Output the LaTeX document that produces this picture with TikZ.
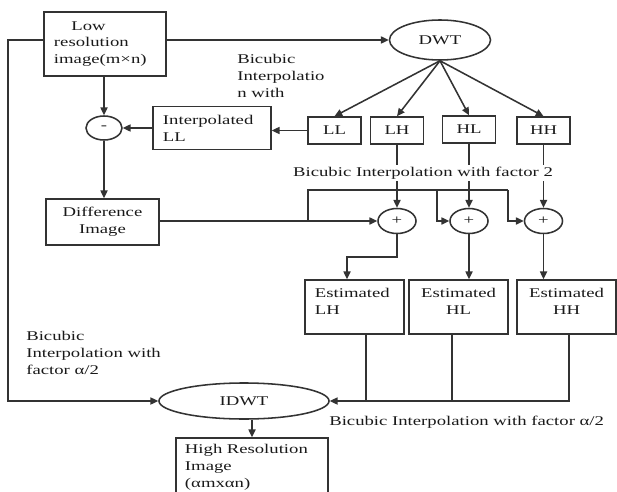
\documentclass[tikz,border=0pt]{standalone}
\usepackage{fontspec}
\setmainfont{Liberation Serif}[FakeStretch=1.4]
\usetikzlibrary{arrows.meta,shapes.geometric}

\tikzset{
  blk/.style={draw=black!80, rectangle, line width=1.1pt, inner ysep=2pt},
  oval/.style={draw=black!80, ellipse, line width=1.1pt, inner sep=0pt},
  est/.style={blk, minimum width=2.475cm, minimum height=1.35cm, text width=1.975cm},
  lbl/.style={inner sep=0pt, align=left},
  wire/.style={draw=black!80, line width=1.1pt},
  flow/.style={wire, -{Triangle[length=5.5pt,width=5pt]}}
}

\begin{document}
\begin{tikzpicture}[x=0.025cm, y=-0.025cm, font=\fontsize{9.5}{12}\selectfont, text=black!90]
\useasboundingbox (0,0) rectangle (617,492);
\clip (0,0) rectangle (617,492);

\node[blk, minimum width=3.05cm, minimum height=1.6cm, text width=2.55cm, align=left] (low) at (105,44) {\hspace{1.3em}Low\\resolution\\image(m×n)};
\node[oval, minimum width=2.525cm, minimum height=1cm] (dwt) at (440,40) {DWT};
\node[oval, minimum width=0.9cm, minimum height=0.6cm] (minus) at (104,128) {-};
\node[blk, minimum width=2.95cm, minimum height=1.075cm, text width=2.45cm, align=left] (interp) at (212,128) {Interpolated\\LL};
\node[blk, minimum width=1.325cm, minimum height=0.675cm] (ll) at (334.5,130.5) {LL};
\node[blk, minimum width=1.325cm, minimum height=0.675cm] (lh) at (397,130.5) {LH};
\node[blk, minimum width=1.325cm, minimum height=0.675cm] (hl) at (469,129.5) {HL};
\node[blk, minimum width=1.325cm, minimum height=0.675cm] (hh) at (543.5,130.5) {HH};
\node[blk, minimum width=2.825cm, minimum height=1.15cm, align=center] (diff) at (102.5,222) {Difference\\Image};
\node[oval, minimum width=0.95cm, minimum height=0.625cm] (p1) at (397,221) {+};
\node[oval, minimum width=0.95cm, minimum height=0.625cm] (p2) at (469,221) {+};
\node[oval, minimum width=0.95cm, minimum height=0.625cm] (p3) at (543.5,221) {+};
\node[est, align=left] (estlh) at (354.5,307) {Estimated\\LH\par\vspace{8pt}};
\node[est, align=center] (esthl) at (458.5,307) {Estimated\\HL\par\vspace{8pt}};
\node[est, align=center] (esthh) at (566.5,307) {Estimated\\HH\par\vspace{8pt}};
\node[oval, minimum width=4.25cm, minimum height=0.9cm] (idwt) at (244,401) {IDWT};
\node[blk, minimum width=3.8cm, minimum height=1.45cm, text width=3.35cm, align=left] (hr) at (252,467) {High Resolution\\Image\\(αmxαn)};

\coordinate (lft) at (8,40);
\draw[flow] (low.east |- dwt.west) -- (dwt.west);
\draw[flow] (low.west |- lft) -- (lft) |- (idwt.west);
\foreach \b in {ll,lh,hl,hh}
  \draw[flow] (dwt.south) -- (\b.north);
\draw[flow] (ll.west) -- (ll.west -| interp.east);
\draw[flow] (interp.west) -- (minus.east);
\draw[flow] (minus.north |- low.south) -- (minus.north);
\draw[flow] (minus.south) -- (minus.south |- diff.north);

\coordinate (br) at (308,221);
\coordinate (j1) at (437,190);
\coordinate (j2) at (508,190);
\draw[flow] (diff.east |- p1.west) -- (p1.west);
\draw[wire] (br) |- (j2);
\draw[flow] (j1) |- (p2.west);
\draw[flow] (j2) |- (p3.west);
\foreach \a/\b in {lh/p1,hl/p2,hh/p3}
  \draw[flow] (\a.south) -- (\b.north);

\coordinate (k) at (347,257);
\draw[flow] (p1.south) |- (k) -- (k |- estlh.north);
\draw[flow] (p2.south) -- (p2.south |- esthl.north);
\draw[flow] (p3.south) -- (p3.south |- esthh.north);

\coordinate (elh) at ([xshift=0.29cm]estlh.south);
\coordinate (ehl) at ([xshift=-0.16cm]esthl.south);
\coordinate (ehh) at ([xshift=0.06cm]esthh.south);
\draw[flow] (ehh) |- (idwt.east);
\draw[wire] (elh) -- (elh |- idwt.east);
\draw[wire] (ehl) -- (ehl |- idwt.east);
\draw[flow] (hr.north |- idwt.south) -- (hr.north);

\node[lbl, anchor=north west] (t1) at (237,54) {Bicubic\\Interpolatio\\n with};
\node[lbl, fill=white, inner sep=1pt] (t2) at (423,173) {Bicubic Interpolation with factor 2};
\node[lbl, anchor=north west] (t3) at (26,331) {Bicubic\\Interpolation with\\factor α/2};
\node[lbl, anchor=west] (t4) at (329,422) {Bicubic Interpolation with factor α/2};
\end{tikzpicture}
\end{document}
